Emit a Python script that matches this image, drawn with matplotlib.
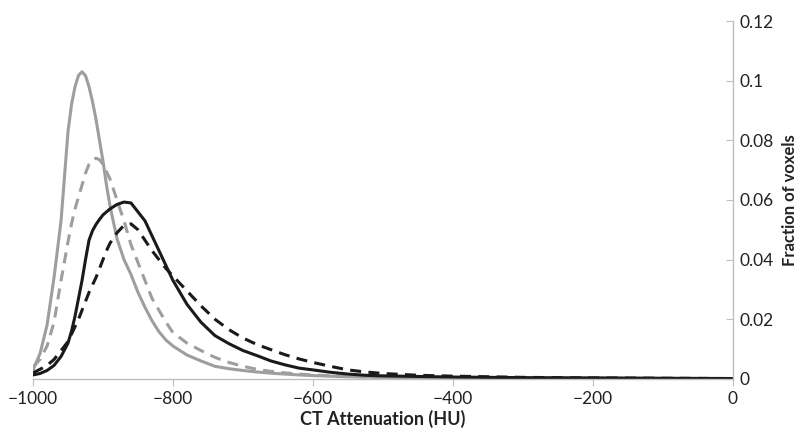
import matplotlib
matplotlib.use('Agg')
import matplotlib.pyplot as plt

plt.rcParams['font.family'] = ['Lato', 'DejaVu Sans']

# HU sample points
hu = [-1000, -990, -980, -970, -960, -950, -945, -940, -935, -930, -925, -920,
      -915, -910, -905, -900, -895, -890, -880, -870, -860, -850, -840, -830,
      -820, -810, -800, -780, -760, -740, -720, -700, -680, -660, -640, -620,
      -600, -575, -550, -525, -500, -450, -400, -350, -300, -200, -100, 0]

# fraction of voxels
gray_solid = [0.003, 0.0085, 0.018, 0.034, 0.053, 0.083, 0.092, 0.098, 0.1018, 0.103, 0.1017, 0.098,
              0.093, 0.087, 0.080, 0.073, 0.065, 0.058, 0.047, 0.040, 0.035, 0.029, 0.024, 0.0195,
              0.0158, 0.013, 0.011, 0.008, 0.006, 0.0042, 0.0034, 0.0028, 0.0023, 0.0019, 0.0016, 0.0013,
              0.0011, 0.0009, 0.0007, 0.0006, 0.0005, 0.0004, 0.0003, 0.0003, 0.0002, 0.0002, 0.0001, 0.0001]
gray_dash = [0.004, 0.0065, 0.011, 0.019, 0.033, 0.046, 0.052, 0.057, 0.061, 0.065, 0.069, 0.072,
             0.0735, 0.074, 0.0735, 0.072, 0.0695, 0.067, 0.060, 0.053, 0.045, 0.039, 0.033, 0.027,
             0.023, 0.019, 0.0155, 0.012, 0.0095, 0.0072, 0.0055, 0.0042, 0.0032, 0.0025, 0.002, 0.0016,
             0.0013, 0.001, 0.0008, 0.0007, 0.0006, 0.0004, 0.0003, 0.0003, 0.0002, 0.0002, 0.0001, 0.0001]
black_solid = [0.0013, 0.0018, 0.0028, 0.0045, 0.0075, 0.012, 0.016, 0.021, 0.027, 0.033, 0.040, 0.0465,
               0.0497, 0.0518, 0.0535, 0.055, 0.056, 0.057, 0.0585, 0.0593, 0.059, 0.056, 0.053, 0.048,
               0.043, 0.038, 0.033, 0.025, 0.019, 0.0145, 0.0118, 0.0095, 0.0078, 0.006, 0.0047, 0.0036,
               0.003, 0.0022, 0.0016, 0.0012, 0.001, 0.0008, 0.0006, 0.0005, 0.0004, 0.0003, 0.0002, 0.0001]
black_dash = [0.002, 0.0032, 0.0045, 0.0065, 0.0095, 0.0125, 0.015, 0.0175, 0.020, 0.023, 0.026, 0.029,
              0.0315, 0.034, 0.037, 0.040, 0.043, 0.0455, 0.049, 0.0515, 0.052, 0.050, 0.0465, 0.043,
              0.040, 0.037, 0.0345, 0.0295, 0.0245, 0.020, 0.0165, 0.0137, 0.0115, 0.0098, 0.0081, 0.0067,
              0.0055, 0.0042, 0.003, 0.0023, 0.0018, 0.0012, 0.0009, 0.0007, 0.0005, 0.0003, 0.0002, 0.0001]

x_ticks = [-1000, -800, -600, -400, -200, 0]
y_ticks = [0, 0.02, 0.04, 0.06, 0.08, 0.1, 0.12]
y_tick_labels = ['0', '0.02', '0.04', '0.06', '0.08', '0.1', '0.12']

C_GRAY = '#9E9E9E'; C_BLACK = '#1A1A1A'; C_AX = '#BFBFBF'; C_TXT = '#222222'

fig = plt.figure(figsize=(8.06, 4.40), dpi=100, facecolor='white')
ax = fig.add_axes([0.041, 0.139, 0.868, 0.813])

ax.plot(hu, gray_solid, color=C_GRAY, lw=2.2, solid_capstyle='round', solid_joinstyle='round')
ax.plot(hu, gray_dash, color=C_GRAY, lw=2.2, dashes=(3.6, 2.4))
ax.plot(hu, black_solid, color=C_BLACK, lw=2.2, solid_capstyle='round', solid_joinstyle='round')
ax.plot(hu, black_dash, color=C_BLACK, lw=2.2, dashes=(3.6, 2.4))

ax.set_xlim(-1000, 0); ax.set_ylim(0, 0.12)
ax.set_xticks(x_ticks)
ax.set_xticklabels([str(t).replace('-', '\u2212') for t in x_ticks])
ax.set_yticks(y_ticks); ax.set_yticklabels(y_tick_labels)

ax.spines['top'].set_visible(False); ax.spines['left'].set_visible(False)
for s in ('bottom', 'right'):
    ax.spines[s].set_color(C_AX); ax.spines[s].set_linewidth(1.0)
ax.yaxis.tick_right(); ax.yaxis.set_label_position('right')
ax.tick_params(axis='y', direction='in', length=5, color=C_AX, labelsize=12.5,
               labelcolor=C_TXT, pad=5)
ax.tick_params(axis='x', direction='out', length=5, color=C_AX, labelsize=12.5,
               labelcolor=C_TXT, pad=4)

ax.set_xlabel('CT Attenuation (HU)', fontsize=13, fontweight='bold', color=C_TXT, labelpad=2)
ax.set_ylabel('Fraction of voxels', fontsize=12, fontweight='bold', color=C_TXT,
              labelpad=6, rotation=90)

fig.savefig('out.png', dpi=100, facecolor='white')
